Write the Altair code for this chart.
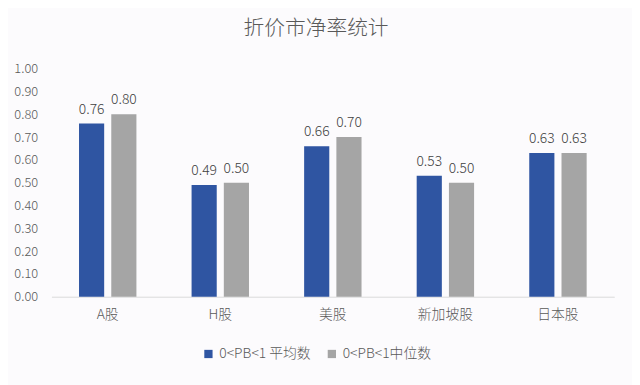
import altair as alt
import pandas as pd

categories = ["A股", "H股", "美股", "新加坡股", "日本股"]
series_names = ["0<PB<1 平均数", "0<PB<1中位数"]
mean_values = [0.76, 0.49, 0.66, 0.53, 0.63]
median_values = [0.80, 0.50, 0.70, 0.50, 0.63]
colors = ["#2F55A2", "#A5A5A5"]
y_ticks = [0.0, 0.1, 0.2, 0.3, 0.4, 0.5, 0.6, 0.7, 0.8, 0.9, 1.0]

rows = []
for c, m, md in zip(categories, mean_values, median_values):
    rows.append({"cat": c, "series": series_names[0], "value": m})
    rows.append({"cat": c, "series": series_names[1], "value": md})
df = pd.DataFrame(rows)

FONT = "Noto Sans CJK SC"
W = 300

base = alt.Chart(df).encode(
    x=alt.X("cat:N", sort=categories, title=None,
            scale=alt.Scale(paddingInner=0.49, paddingOuter=0.245),
            axis=alt.Axis(labelAngle=0, labelFont=FONT, labelFontSize=14,
                          labelFontWeight=W,
                          labelColor="#595959", labelPadding=11, ticks=False,
                          domainColor="#D9D9D9", domainWidth=1, grid=False)),
    xOffset=alt.XOffset("series:N", sort=series_names,
                        scale=alt.Scale(paddingInner=0.22, paddingOuter=0)),
    y=alt.Y("value:Q", title=None,
            scale=alt.Scale(domain=[0, 1]),
            axis=alt.Axis(values=y_ticks, format=".2f", labelFont=FONT,
                          labelFontSize=13, labelFontWeight=W,
                          labelColor="#595959", ticks=False,
                          domain=False, grid=False, labelPadding=14)),
)

bars = base.mark_bar().encode(
    color=alt.Color("series:N", sort=series_names,
                    scale=alt.Scale(domain=series_names, range=colors),
                    legend=alt.Legend(title=None, orient="none", direction="horizontal",
                                      legendX=152, legendY=282, symbolType="square",
                                      symbolSize=70, symbolStrokeWidth=0,
                                      labelFont=FONT, labelFontSize=14,
                                      labelFontWeight=W,
                                      labelColor="#595959", columnPadding=14,
                                      labelOffset=4))
)

labels = base.mark_text(baseline="bottom", dy=-7, font=FONT, fontSize=14,
                        fontWeight=W, color="#404040").encode(
    text=alt.Text("value:Q", format=".2f")
)

chart = alt.layer(bars, labels).properties(
    width=570, height=231,
    title=alt.Title("折价市净率统计", font=FONT, fontSize=21, fontWeight=W,
                    color="#595959", anchor="middle", dx=-17, offset=24),
    background="#FCFBFD",
    padding={"left": 44, "top": 59, "right": 18, "bottom": 87},
    autosize=alt.AutoSizeParams(type="none"),
).configure_view(stroke=None)

chart.save("out.html", embed_options={"renderer": "svg", "actions": False})
